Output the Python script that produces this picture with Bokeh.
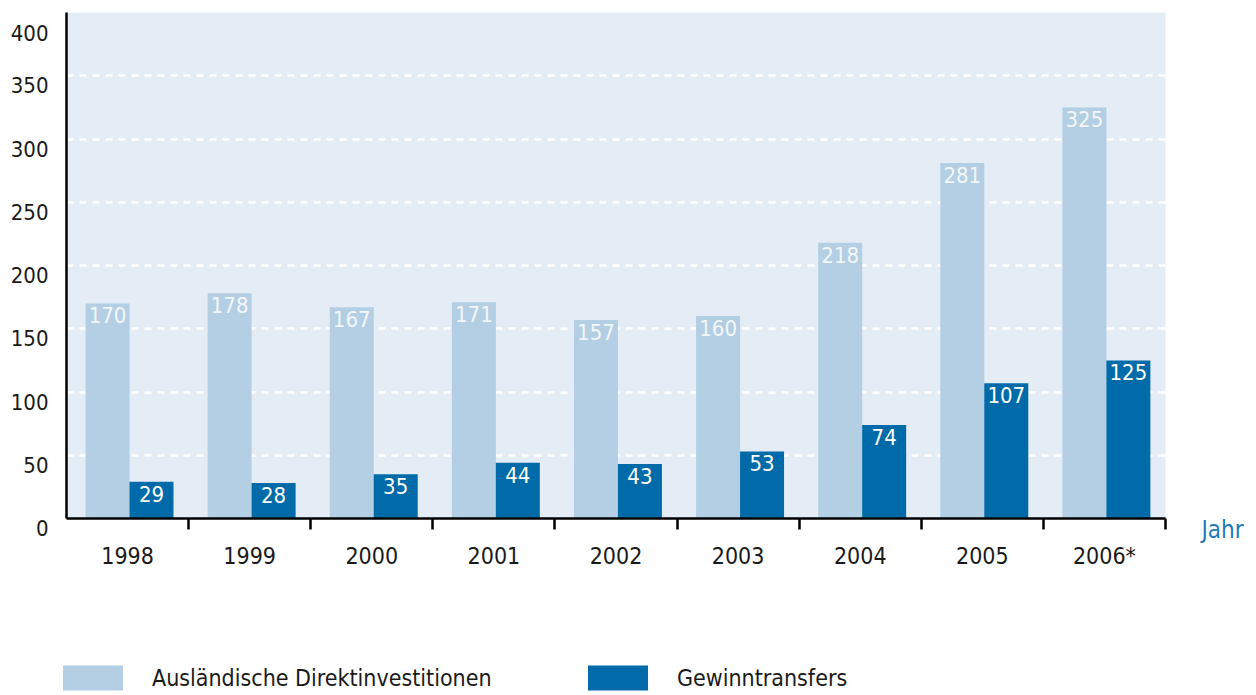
from bokeh.plotting import figure
from bokeh.models import (Range1d, FixedTicker, ColumnDataSource, Legend, LegendItem,
                          LinearAxis)
from bokeh.layouts import column
from bokeh.core.properties import value
from bokeh.embed import file_html
from bokeh.resources import INLINE

years = ["1998", "1999", "2000", "2001", "2002", "2003", "2004", "2005", "2006*"]
fdi = [170, 178, 167, 171, 157, 160, 218, 281, 325]
transfers = [29, 28, 35, 44, 43, 53, 74, 107, 125]
y_ticks = [0, 50, 100, 150, 200, 250, 300, 350, 400]
series_names = ["Ausländische Direktinvestitionen", "Gewinntransfers"]

FONT = "DejaVu Sans Condensed"
LIGHT = "#b4cee3"
DARK = "#006ba8"
BG = "#e4edf5"
TXT = "#1a1a1a"

n = len(years)
centers = [i + 0.5 for i in range(n)]
x_light = [i + 0.336 for i in range(n)]
x_dark = [i + 0.696 for i in range(n)]
bw = 0.3604

src = ColumnDataSource(dict(xl=x_light, xd=x_dark, fdi=fdi, tr=transfers,
                            fdi_s=[str(v) for v in fdi], tr_s=[str(v) for v in transfers]))

p = figure(width=1256, height=600, output_backend="svg", toolbar_location=None,
           x_range=Range1d(0, n), y_range=Range1d(0, 400),
           min_border_left=66, min_border_right=91, min_border_top=12, min_border_bottom=82)
p.frame_align = False
p.background_fill_color = BG
p.border_fill_color = "white"
p.outline_line_color = None

r1 = p.vbar(x="xl", top="fdi", width=bw, bottom=0, source=src, fill_color=LIGHT, line_color=None)
r2 = p.vbar(x="xd", top="tr", width=bw, bottom=0, source=src, fill_color=DARK, line_color=None)

p.text(x="xl", y="fdi", text="fdi_s", source=src, text_align="center", text_baseline="top",
       y_offset=4, text_color="#f2f7fb", text_font=value(FONT), text_font_size="22px")
p.text(x="xd", y="tr", text="tr_s", source=src, text_align="center", text_baseline="top",
       y_offset=4, text_color="white", text_font=value(FONT), text_font_size="22px")

# grid
p.xgrid.visible = False
p.ygrid.ticker = FixedTicker(ticks=y_ticks[1:-1])
p.ygrid.grid_line_color = "white"
p.ygrid.grid_line_width = 2.5
p.ygrid.grid_line_dash = "7 6"

# y axis (labels sit slightly below their gridlines in the original)
ya = p.yaxis[0]
ya.ticker = FixedTicker(ticks=y_ticks)
ya.major_label_overrides = {t: "\n" + str(t) for t in y_ticks}
ya.major_label_text_line_height = 0.8
ya.axis_line_color = "black"
ya.axis_line_width = 2.5
ya.major_tick_out = 0
ya.major_tick_in = 0
ya.minor_tick_out = 0
ya.minor_tick_in = 0
ya.major_label_standoff = 18
ya.major_label_text_font = FONT
ya.major_label_text_font_size = "22px"
ya.major_label_text_color = TXT

# x axis
xa = p.xaxis[0]
xa.ticker = FixedTicker(ticks=centers, minor_ticks=list(range(1, n + 1)))
xa.major_label_overrides = {c: y for c, y in zip(centers, years)}
xa.axis_line_color = "black"
xa.axis_line_width = 2.5
xa.major_tick_out = 0
xa.major_tick_in = 0
xa.minor_tick_out = 11
xa.minor_tick_in = 0
xa.minor_tick_line_width = 2.5
xa.minor_tick_line_color = "black"
xa.major_label_standoff = 13
xa.major_label_text_font = FONT
xa.major_label_text_font_size = "23px"
xa.major_label_text_color = TXT

# "Jahr" as label of a right-hand axis placed at the baseline
ra = LinearAxis(ticker=FixedTicker(ticks=[0]), major_label_overrides={0: "\nJahr"})
ra.major_label_text_line_height = 0.8
ra.axis_line_color = None
ra.major_tick_line_color = None
ra.minor_tick_line_color = None
ra.major_label_standoff = 30
ra.major_label_text_font = FONT
ra.major_label_text_font_size = "24px"
ra.major_label_text_color = "#1f7bb8"
p.add_layout(ra, "right")

# legend strip
lg = figure(width=1256, height=95, output_backend="svg", toolbar_location=None,
            x_range=Range1d(0, 1), y_range=Range1d(0, 1),
            x_axis_location=None, y_axis_location=None,
            min_border_left=0, min_border_right=0, min_border_top=0, min_border_bottom=0)
lg.frame_align = False
lg.grid.visible = False
lg.outline_line_color = None
lg.background_fill_color = "white"
lg.border_fill_color = "white"
off = ColumnDataSource(dict(x=[5], top=[5]))
l1 = lg.vbar(x="x", top="top", width=0.1, source=off, fill_color=LIGHT, line_color=None)
l2 = lg.vbar(x="x", top="top", width=0.1, source=off, fill_color=DARK, line_color=None)

for rend, name, loc in [(l1, series_names[0], (55, 2)), (l2, series_names[1], (580, 2))]:
    leg = Legend(items=[LegendItem(label=name, renderers=[rend])], location=loc,
                 glyph_width=75, glyph_height=31, label_standoff=22, label_height=31,
                 padding=0, margin=0, border_line_color=None, background_fill_alpha=0,
                 label_text_font=FONT, label_text_font_size="23px", label_text_color=TXT)
    lg.add_layout(leg)

layout = column(p, lg, spacing=0)
open("out.html", "w").write(file_html(layout, INLINE))
